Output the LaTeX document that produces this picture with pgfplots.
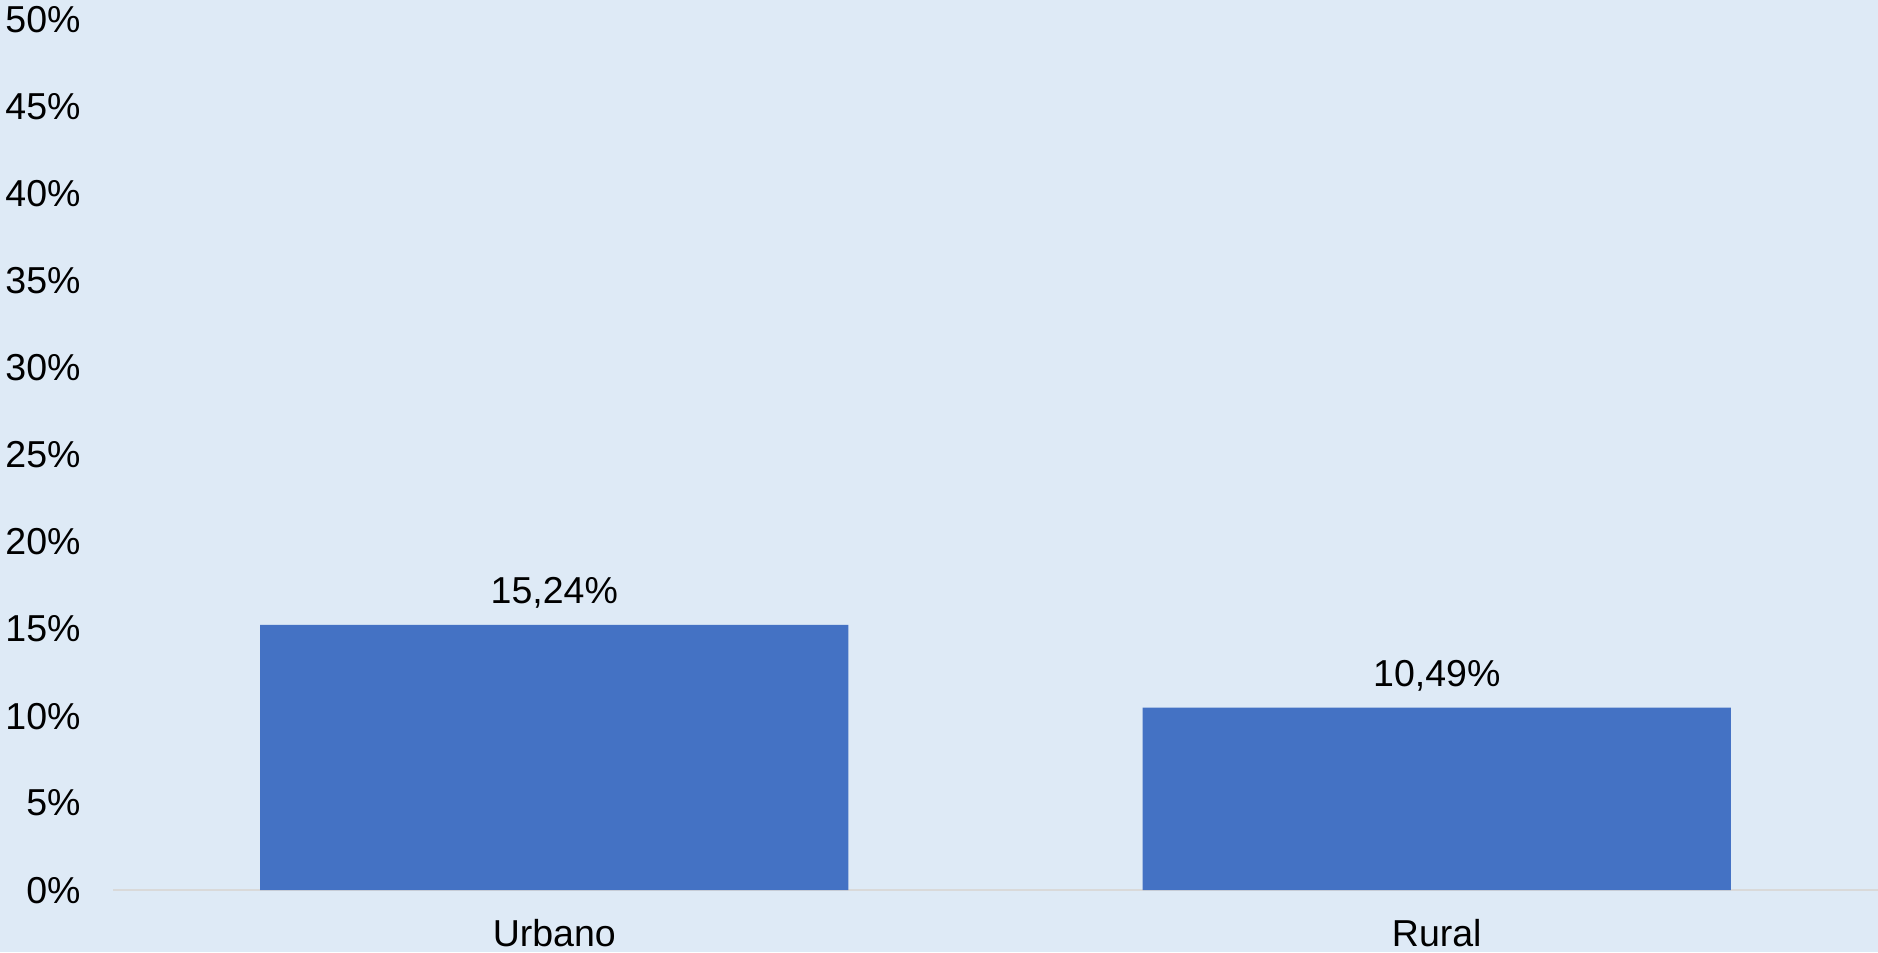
\documentclass[border=0pt]{standalone}
\usepackage{pgfplots}
\pgfplotsset{compat=1.18}
\usepackage{fontspec}
\setmainfont{Liberation Sans}
\definecolor{bg}{HTML}{DEEAF6}
\definecolor{barblue}{HTML}{4472C4}
\definecolor{axgray}{HTML}{D9D9D9}
\begin{document}
\begin{tikzpicture}
\fill[bg] (-45.2pt,-24.8pt) rectangle (705.9pt,356pt);
\useasboundingbox (-45.2pt,-24.8pt) rectangle (705.9pt,356pt);
\begin{axis}[
  at={(0,0)}, anchor=south west,
  scale only axis,
  width=705.9pt, height=348pt,
  xmin=-0.5, xmax=1.5,
  ymin=0, ymax=50,
  axis line style={draw=none},
  axis x line*=bottom,
  axis y line*=left,
  major tick length=0pt,
  xtick=data,
  xticklabels={Urbano,Rural},
  ytick={0,5,...,50},
  yticklabel={\pgfmathparse{int(\tick)}\pgfmathresult\%},
  /pgf/number format/assume math mode=true,
  font=\fontsize{15pt}{17pt}\selectfont,
  tick label style={font=\fontsize{15pt}{17pt}\selectfont, inner sep=0pt},
  yticklabel style={anchor=east, xshift=-12.8pt},
  xticklabel style={anchor=north, yshift=-11.4pt},
  clip=false,
  nodes near coords={\pgfmathprintnumber[fixed, fixed zerofill, precision=2, use comma, assume math mode=true]{\pgfplotspointmeta}\%},
  every node near coord/.append style={anchor=base, inner sep=0pt, yshift=8.4pt, font=\fontsize{15pt}{17pt}\selectfont},
]
\draw[axgray, line width=1pt] (axis cs:-0.5,0) -- (axis cs:1.5,0);
\addplot[ybar, bar width=235.2pt, fill=barblue, draw=none] coordinates {
  (0,15.24)
  (1,10.49)
};
\end{axis}
\end{tikzpicture}
\end{document}
